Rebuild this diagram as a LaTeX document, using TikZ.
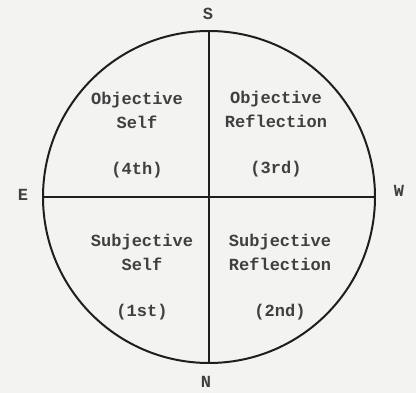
\documentclass[tikz,border=0pt]{standalone}
\usepackage{fontspec}
\setmonofont{Liberation Mono}
\usetikzlibrary{positioning}
\definecolor{scanpaper}{HTML}{F3F3F1}
\definecolor{scanink}{HTML}{1E1E1E}

\begin{document}
\begin{tikzpicture}[x=1pt, y=-1pt,
  quadtext/.style={font=\ttfamily\bfseries\fontsize{17}{20}\selectfont, text=scanink!85, anchor=base},
  compass/.style={font=\ttfamily\bfseries\fontsize{17}{20}\selectfont, text=scanink!85, anchor=base}]
  \useasboundingbox (0,0) rectangle (416,393);
  % Paper
  \fill[scanpaper] (0,0) rectangle (416,393);
  % Circle
  \node[circle, draw=scanink, line width=2pt, minimum size=332pt, inner sep=0pt] (ring) at (209,197) {};
  % Cross
  \draw[scanink, line width=2pt] (ring.north) -- (ring.south);
  \draw[scanink, line width=2pt] (ring.west) -- (ring.east);
  % Compass letters
  \node[compass] (S) at (208,20) {S};
  \node[compass] (N) at (206,388) {N};
  \node[compass] (E) at (23,201) {E};
  \node[compass] (W) at (399,197) {W};
  % Quadrants: first line, second line, order
  \foreach \one/\two/\ord/\x/\y [count=\i] in {
    Objective/Self/(4th)/137/105, Objective/Reflection/(3rd)/276/104,
    Subjective/Self/(1st)/142/247, Subjective/Reflection/(2nd)/280/247
  }{
    \node[quadtext] (q\i-one) at (\x,\y) {\one};
    \node[quadtext] (q\i-two) at (\x,\y+24) {\two};
    \node[quadtext] (q\i-ord) at (\x,\y+70) {\ord};
  }
\end{tikzpicture}
\end{document}
